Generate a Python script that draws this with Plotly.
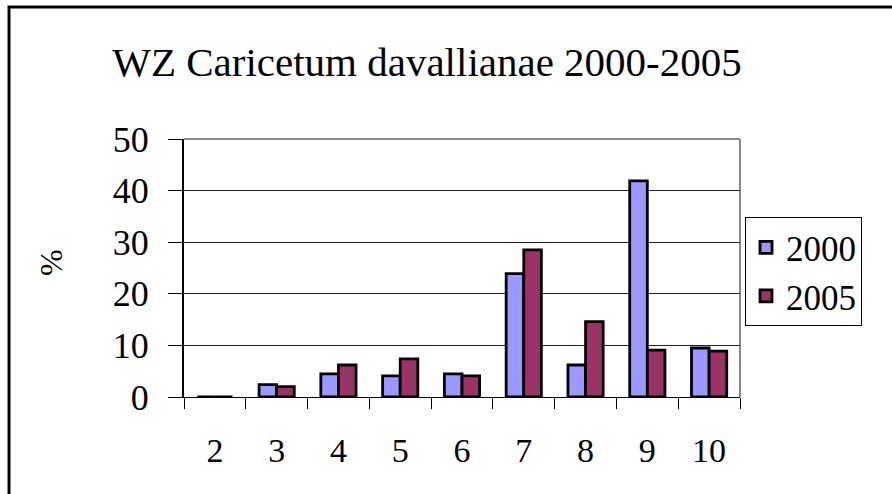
import plotly.graph_objects as go

categories = ["2", "3", "4", "5", "6", "7", "8", "9", "10"]
values_2000 = [0, 2.4, 4.5, 4.1, 4.5, 23.9, 6.2, 41.9, 9.5]
values_2005 = [0, 2.0, 6.2, 7.4, 4.1, 28.5, 14.6, 9.1, 8.9]
y_ticks = [0, 10, 20, 30, 40, 50]

FONT = "Liberation Serif, Times New Roman, Tinos, DejaVu Serif, serif"
W, H = 892, 494
L, R, T, B = 184, 740, 138.5, 397.5  # plot-area pixel edges

def px_x(x):
    return (x - L) / (R - L)

def px_y(y):
    return (B - y) / (B - T)

fig = go.Figure()
fig.add_trace(go.Bar(name="2000", x=categories, y=values_2000,
                     marker=dict(color="#9999FF", line=dict(color="black", width=2.8))))
fig.add_trace(go.Bar(name="2005", x=categories, y=values_2005,
                     marker=dict(color="#993366", line=dict(color="black", width=2.8))))

fig.update_layout(
    width=W, height=H,
    margin=dict(l=L, r=W - R, t=T, b=H - B, pad=0),
    paper_bgcolor="white", plot_bgcolor="white",
    barmode="group", bargap=0.43, bargroupgap=0,
    font=dict(family=FONT, color="black"),
    title=dict(text="WZ Caricetum davallianae 2000-2005",
               font=dict(family=FONT, size=41, color="black"),
               x=427 / W, xref="container", xanchor="center",
               y=1 - 62 / H, yref="container", yanchor="middle"),
    showlegend=True,
    legend=dict(x=px_x(745), y=px_y(217), xanchor="left", yanchor="top",
                bordercolor="black", borderwidth=1, bgcolor="white",
                font=dict(family=FONT, size=35, color="black"),
                tracegroupgap=0, itemwidth=30),
    xaxis=dict(type="category", showgrid=False, showline=True, linecolor="black",
               linewidth=1, ticks="outside", tickson="boundaries", ticklen=11,
               tickcolor="black", tickwidth=1, ticklabelstandoff=23,
               tickfont=dict(family=FONT, size=34, color="black"), fixedrange=True),
    yaxis=dict(range=[0, 50], tickvals=y_ticks, showgrid=True, gridcolor="#222222",
               gridwidth=1, showline=True, linecolor="black", linewidth=2,
               ticks="outside", ticklen=14, tickcolor="black", tickwidth=1,
               ticklabelstandoff=12, zeroline=False,
               tickfont=dict(family=FONT, size=36, color="black"), fixedrange=True),
    annotations=[dict(text="%", xref="paper", yref="paper", x=px_x(51), y=px_y(263),
                      xanchor="center", yanchor="middle", showarrow=False, textangle=-90,
                      font=dict(family=FONT, size=32, color="black"))],
    shapes=[
        # grey plot-area frame (top and right)
        dict(type="line", xref="paper", yref="paper", x0=0, x1=1, y0=1, y1=1,
             line=dict(color="#888888", width=2), layer="below"),
        dict(type="line", xref="paper", yref="paper", x0=1, x1=1, y0=0, y1=1,
             line=dict(color="#888888", width=2), layer="below"),
        # outer chart border
        dict(type="rect", xref="paper", yref="paper",
             x0=px_x(9), x1=px_x(900), y0=px_y(6), y1=px_y(505),
             line=dict(color="black", width=3)),
    ],
)

fig.write_html("out.html", config={"displayModeBar": False, "staticPlot": True},
               post_script="document.body.style.margin='0';document.body.style.overflow='hidden';")
